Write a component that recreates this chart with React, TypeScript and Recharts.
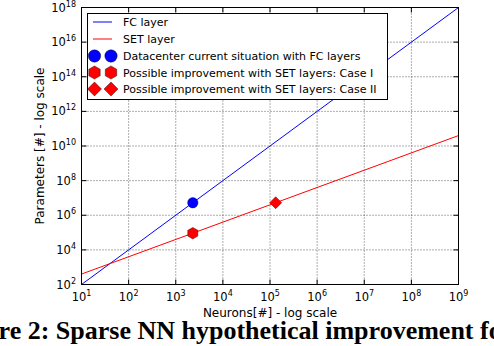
import React from 'react';
import { ComposedChart, Line, Scatter, XAxis, YAxis, CartesianGrid } from 'recharts';

// ---- data ----
const fcNeurons = [1e1, 1e9];
const fcParams = [1e2, 1e18];
const setNeurons = [1e1, 1e9];
const setParams = [4e2, 4e10];
const datacenterPoint = [{ x: 2300, y: 5.3e6 }];
const caseIPoint = [{ x: 2300, y: 9.2e4 }];
const caseIIPoint = [{ x: 1.32e5, y: 5.3e6 }];

const xMajorTicks = [1e1, 1e2, 1e3, 1e4, 1e5, 1e6, 1e7, 1e8, 1e9];
const yMajorTicks = [1e2, 1e4, 1e6, 1e8, 1e10, 1e12, 1e14, 1e16, 1e18];
const minorMultipliers = [2, 3, 4, 5, 6, 7, 8, 9];
const xMinorTicks = xMajorTicks.slice(0, -1).flatMap((d) => minorMultipliers.map((m) => m * d));

const legendLabels = [
  'FC layer',
  'SET layer',
  'Datacenter current situation with FC layers',
  'Possible improvement with SET layers: Case I',
  'Possible improvement with SET layers: Case II',
];
const xLabel = 'Neurons[#] - log scale';
const yLabel = 'Parameters [#] - log scale';
const caption = 'Figure 2: Sparse NN hypothetical improvement for datacenters';

const fcData = fcNeurons.map((x, i) => ({ x, y: fcParams[i] }));
const setData = setNeurons.map((x, i) => ({ x, y: setParams[i] }));

// ---- layout ----
const W = 494;
const H = 346;
const PL = 81.5;
const PT = 7.5;
const PR = 458.5;
const PB = 284.5;
const FONT = 'DejaVu Sans, sans-serif';
const BLUE = '#0000ff';
const RED = '#ff0000';

const exp = (v: number) => Math.round(Math.log10(v));

const XTick = (props: any) => {
  const { x, payload } = props;
  return (
    <g>
      <line x1={x} x2={x} y1={PB} y2={PB - 5} stroke="#000" strokeWidth={1} />
      <line x1={x} x2={x} y1={PT} y2={PT + 5} stroke="#000" strokeWidth={1} />
      <text x={x} y={PB + 16.5} textAnchor="middle" fontSize={11.5} fontFamily={FONT} fill="#000">
        10<tspan dy={-5} fontSize={8}>{exp(payload.value)}</tspan>
      </text>
    </g>
  );
};

const XMinorTick = (props: any) => {
  const { x } = props;
  return (
    <g>
      <line x1={x} x2={x} y1={PB} y2={PB - 2.5} stroke="#000" strokeWidth={1} />
      <line x1={x} x2={x} y1={PT} y2={PT + 2.5} stroke="#000" strokeWidth={1} />
    </g>
  );
};

const YTick = (props: any) => {
  const { y, payload } = props;
  return (
    <g>
      <line x1={PL} x2={PL + 5} y1={y} y2={y} stroke="#000" strokeWidth={1} />
      <line x1={PR} x2={PR - 5} y1={y} y2={y} stroke="#000" strokeWidth={1} />
      <text x={76} y={y + 4} textAnchor="end" fontSize={11.5} fontFamily={FONT} fill="#000">
        10<tspan dy={-5} fontSize={8}>{exp(payload.value)}</tspan>
      </text>
    </g>
  );
};

const hexPoints = (cx: number, cy: number, r: number) =>
  [0, 1, 2, 3, 4, 5]
    .map((k) => {
      const a = (Math.PI / 180) * (90 + 60 * k);
      return `${cx + r * Math.cos(a)},${cy - r * Math.sin(a)}`;
    })
    .join(' ');

const Circle = ({ cx, cy, r = 5.2 }: any) => (
  <circle cx={cx} cy={cy} r={r} fill={BLUE} stroke="#000" strokeWidth={0.4} />
);
const Hexagon = ({ cx, cy, r = 5.8 }: any) => (
  <polygon points={hexPoints(cx, cy, r)} fill={RED} stroke="#000" strokeWidth={0.4} />
);
const Diamond = ({ cx, cy, r = 6 }: any) => (
  <polygon
    points={`${cx},${cy - r} ${cx + r},${cy} ${cx},${cy + r} ${cx - r},${cy}`}
    fill={RED}
    stroke="#000"
    strokeWidth={0.4}
  />
);

const LegendBox = () => {
  const rowY = [22, 39, 56, 72.5, 89];
  return (
    <svg
      width={W}
      height={H}
      style={{ position: 'absolute', left: 0, top: 0, pointerEvents: 'none' }}
    >
      <rect x={87.5} y={13.5} width={300} height={86} fill="#fff" stroke="#000" strokeWidth={1} />
      <line x1={93} x2={112} y1={rowY[0]} y2={rowY[0]} stroke={BLUE} strokeWidth={1} />
      <line x1={93} x2={112} y1={rowY[1]} y2={rowY[1]} stroke={RED} strokeWidth={1} />
      <Circle cx={94.5} cy={rowY[2]} r={6.2} />
      <Circle cx={111} cy={rowY[2]} r={6.2} />
      <Hexagon cx={94.5} cy={rowY[3]} r={6.6} />
      <Hexagon cx={111} cy={rowY[3]} r={6.6} />
      <Diamond cx={94.5} cy={rowY[4]} r={7} />
      <Diamond cx={111} cy={rowY[4]} r={7} />
      {legendLabels.map((t, i) => (
        <text key={t} x={123} y={rowY[i] + 4} fontSize={11} fontFamily={FONT} fill="#000">
          {t}
        </text>
      ))}
    </svg>
  );
};

const Overlay = () => (
  <svg width={W} height={H} style={{ position: 'absolute', left: 0, top: 0, pointerEvents: 'none' }}>
    <rect x={PL} y={PT} width={PR - PL} height={PB - PT} fill="none" stroke="#000" strokeWidth={1} />
    <text x={270} y={317} textAnchor="middle" fontSize={12} fontFamily={FONT} fill="#000">
      {xLabel}
    </text>
    <text
      x={44}
      y={146}
      textAnchor="middle"
      fontSize={12}
      fontFamily={FONT}
      fill="#000"
      transform="rotate(-90 44 146)"
    >
      {yLabel}
    </text>
    <text
      x={-52}
      y={339}
      fontSize={26}
      fontWeight="bold"
      fontFamily="Liberation Serif, serif"
      fill="#000"
    >
      {caption}
    </text>
  </svg>
);

export default function App() {
  return (
    <div
      style={{
        position: 'absolute',
        left: 0,
        top: 0,
        width: W,
        height: H,
        overflow: 'hidden',
        background: '#fff',
      }}
    >
      <ComposedChart
        width={W}
        height={H}
        margin={{ top: PT, right: W - PR, left: PL - 60, bottom: H - PB - 30 }}
      >
        <CartesianGrid stroke="#333" strokeDasharray="1 2" strokeWidth={0.8} />
        <XAxis
          dataKey="x"
          type="number"
          scale="log"
          domain={[1e1, 1e9]}
          allowDataOverflow
          ticks={xMajorTicks}
          tick={<XTick />}
          tickLine={false}
          axisLine={false}
          height={30}
          interval={0}
        />
        <XAxis
          xAxisId="minor"
          dataKey="x"
          type="number"
          scale="log"
          domain={[1e1, 1e9]}
          allowDataOverflow
          orientation="top"
          ticks={xMinorTicks}
          tick={<XMinorTick />}
          tickLine={false}
          axisLine={false}
          height={0}
          interval={0}
        />
        <YAxis
          dataKey="y"
          type="number"
          scale="log"
          domain={[1e2, 1e18]}
          allowDataOverflow
          ticks={yMajorTicks}
          tick={<YTick />}
          tickLine={false}
          axisLine={false}
          width={60}
          interval={0}
        />
        <Line
          data={fcData}
          dataKey="y"
          stroke={BLUE}
          strokeWidth={1}
          dot={false}
          isAnimationActive={false}
        />
        <Line
          data={setData}
          dataKey="y"
          stroke={RED}
          strokeWidth={1}
          dot={false}
          isAnimationActive={false}
        />
        <Scatter data={datacenterPoint} dataKey="y" fill={BLUE} shape={<Circle />} isAnimationActive={false} />
        <Scatter data={caseIPoint} dataKey="y" fill={RED} shape={<Hexagon />} isAnimationActive={false} />
        <Scatter data={caseIIPoint} dataKey="y" fill={RED} shape={<Diamond />} isAnimationActive={false} />
      </ComposedChart>
      <Overlay />
      <LegendBox />
    </div>
  );
}
